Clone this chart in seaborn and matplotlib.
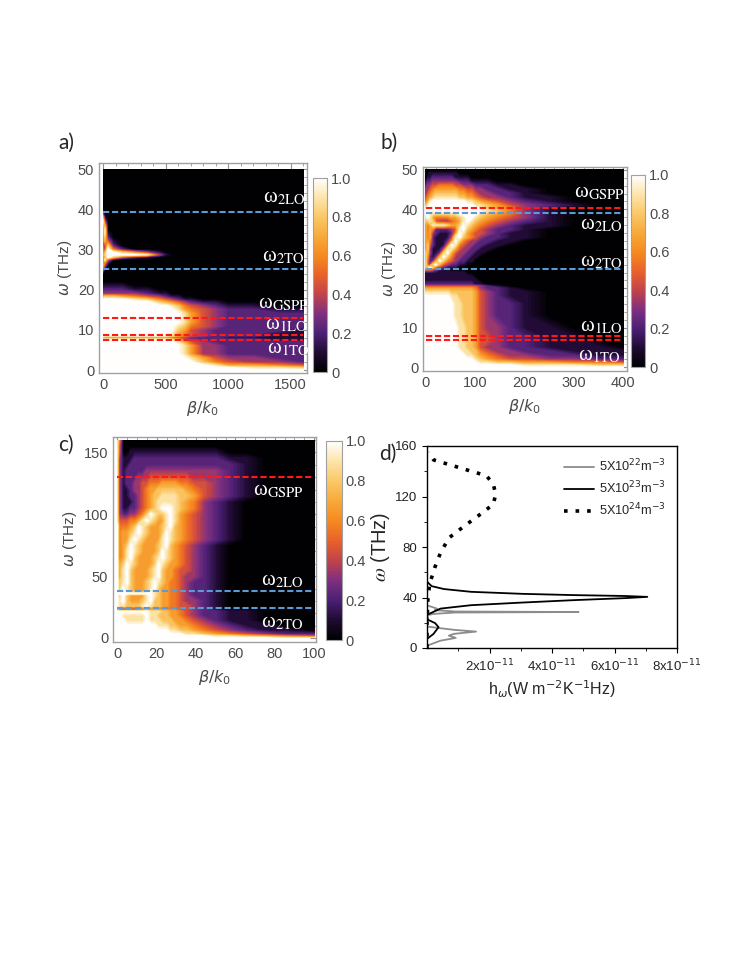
import numpy as np
import matplotlib
matplotlib.use("Agg")
import matplotlib.pyplot as plt
import seaborn as sns
from matplotlib.colors import LinearSegmentedColormap, Normalize
from matplotlib.cm import ScalarMappable
from matplotlib.patches import Rectangle
from matplotlib.ticker import MultipleLocator, FixedLocator

sns.set_style("white")
plt.rcParams['font.family'] = ['Liberation Sans', 'DejaVu Sans']

# ---------------- data ----------------
# heat-map intensities: one string per omega row (top -> bottom), digit d -> d/9
X_A = [0, 15, 40, 80, 150, 250, 350, 450, 500, 550, 600, 650, 700, 800, 900, 1000, 1200, 1400, 1600]
Y_A = [50, 40, 39, 38, 37, 36, 35, 34, 33, 32, 31, 30, 29.3, 28.7, 28.1, 27.5, 27, 26, 25, 24, 22, 21, 20, 19,
       18.3, 17.6, 17, 16, 15, 14, 13, 12, 11, 10, 9, 8.6, 8.1, 7.6, 7, 6, 5, 4, 3, 2, 1.2, 0.6, 0]
Z_A = ["0000000000000000000", "0000000000000000000", "2000000000000000000", "6100000000000000000",
       "8300000000000000000", "7600000000000000000", "5800000000000000000", "4810000000000000000",
       "4720000000000000000", "4641000000000000000", "4372000000000000000", "5395200000000000000",
       "5699753100000000000", "6799998310000000000", "5697421000000000000", "4841000000000000000",
       "5620000000000000000", "6300000000000000000", "3000000000000000000", "0000000000000000000",
       "0000000000000000000", "1111100000000000000", "2222211000000000000", "3333332110000000000",
       "6777654321100000000", "8999987543211000000", "9999999765432110000", "9999999998754321100",
       "9999999999865432211", "9999999999986432222", "9999999999986432222", "9999999999986432222",
       "9999999999875432222", "9999999999764322221", "9999999998654322211", "9999999998654322211",
       "6555555554432221111", "9999999998643222211", "9999999999864322222", "9999999999986332222",
       "9999999999986332222", "9999999999986332222", "9999999999998643322", "9999999999999754332",
       "9999999999999986654", "9999999999999999887", "9999999999999999999"]

X_B = [0, 4, 8, 14, 20, 28, 36, 44, 52, 60, 68, 76, 84, 92, 100, 110, 125, 145, 170, 200, 250, 300, 350, 400]
Y_B = [50, 49, 48, 47, 46, 45, 44, 43, 42, 41, 40.4, 39.7, 39, 38, 37, 36, 35, 34, 33, 32, 31, 30, 29, 28,
       27, 26, 25.3, 24.6, 24, 23, 22, 21, 20.5, 20, 19, 18, 16, 13, 10, 7, 5, 4, 3, 2, 1.2, 0.6, 0]
Z_B = ["000000000000000000000000", "001111111100000000000000", "011222222111100000000000",
       "122333333322211110000000", "233445555443332221100000", "334566666655443322110000",
       "345677777766554332210000", "456788888877665433211000", "568999999999887654321000",
       "789999999999998876432100", "899999999999999876531000", "999999999999999987531000",
       "998888888899999876531000", "898655556678998765431000", "778743334568987654321000",
       "656888876679876543211000", "646522223489765432210000", "656321112598654432110000",
       "656211113897654322110000", "665211125975433221100000", "674211149854332211000000",
       "673111388643322110000000", "763112796433221100000000", "752126975332211000000000",
       "742259754322110000000000", "743796432211000000000000", "779743211100000000000000",
       "444321110000000000000000", "111111111111000000000000", "111111111111110000000000",
       "111111111111111000000000", "222222222222221100000000", "444444444444444321000000",
       "666666666666665322100000", "888888887777776432110000", "999999998877776432110000",
       "999999999887776432210000", "999999999887776432210000", "999999999988776433211000",
       "999999999988776443221100", "999999999988776433221110", "999999999998877543322111",
       "999999999999887654332211", "999999999999998765443322", "999999999999999887766554",
       "999999999999999999988877", "999999999999999999999999"]

X_C = [0, 1, 3, 5, 7, 9, 11, 13, 15, 17, 19, 21, 23, 25, 27, 29, 32, 35, 39, 44, 50, 57, 65, 75, 85, 100]
Y_C = [160, 155, 150, 145, 140, 135, 130, 125, 120, 115, 110, 105, 100, 95, 90, 85, 80, 75, 70, 65, 60, 55,
       50, 45, 40, 37.5, 36, 34.5, 30, 26, 23.2, 21.5, 18, 14, 10, 6, 3, 1.5, 0]
Z_C = ["85000000000000000000000000", "84000000000000000000000000", "84001111111111111111100000",
       "83111222222222222222211000", "83112222222222222222221000", "83122222333333333333321000",
       "83122233344444444433321000", "83122334455566665544321000", "83112334566777777654321000",
       "83112234567788887764321000", "83111234567888887653210000", "83112234567899987653210000",
       "83223345798778986543210000", "84445568987668986543210000", "95556798766678976543210000",
       "95667898766679876543210000", "95668987666689876543210000", "95679876666789765432100000",
       "95689876666798765432100000", "95689766667898765432100000", "96798766667987665432100000",
       "96897666678976654432100000", "96897666678976654332100000", "97897666789876554322100000",
       "97987666789766554322100000", "97987666798766554322100000", "99999999998766554322100000",
       "97976666898766554322100000", "98976667897766554332100000", "98877778987766554432100000",
       "53333334555555554432100000", "99999999988877665432211000", "99888888988777665432211000",
       "99988888988877766543211000", "99999999999888776654321100", "99999999999999887765432110",
       "99999999999999999887654322", "99999999999999999999887654", "99999999999999999999999988"]

# reference frequency lines (THz)
BLUE_A = [39.2, 25.2]
RED_A = [13.0, 8.7, 7.5]
BLUE_B = [39.0, 24.8]
RED_B = [40.4, 7.9, 7.0]
BLUE_C = [37.7, 24.4]
RED_C = [130.0]

# mode labels: (beta/k0, omega, subscript)
LAB_A = [(1280, 40.6, "2LO"), (1272, 25.7, "2TO"), (1240, 14.2, "GSPP"), (1296, 8.9, "1LO"), (1310, 3.0, "1TO")]
LAB_B = [(300, 41.7, "GSPP"), (312, 33.6, "2LO"), (312, 24.2, "2TO"), (312, 7.9, "1LO"), (308, 0.6, "1TO")]
LAB_C = [(69, 111, "GSPP"), (73, 38.7, "2LO"), (73, 4.8, "2TO")]

# panel d curves: h (units of 1e-11 W m^-2 K^-1 Hz) vs omega (THz)
H_22 = [0.0, 0.43, 0.92, 0.70, 0.86, 1.57, 0.86, 0.32, 0.0, 0.0, 0.2, 0.9, 4.85, 0.9, 0.25, 0.32, 0.0, 0.0]
W_22 = [1.8, 5.8, 8.0, 9.8, 11.2, 13.0, 14.4, 16.0, 17.0, 25.9, 27.0, 28.1, 28.5, 28.9, 30.0, 31.2, 33.8, 40.0]
H_23 = [0.0, 0.21, 0.37, 0.26, 0.03, 0.0, 0.10, 0.43, 1.41, 3.05, 4.69, 6.33, 7.05, 6.33, 4.69, 3.05, 1.41, 0.54, 0.15, 0.0]
W_23 = [7.2, 11.2, 16.5, 19.7, 22.4, 26.2, 27.4, 31.2, 33.9, 36.0, 37.9, 39.5, 40.5, 41.2, 41.9, 42.9, 44.5, 46.7, 49.0, 52.5]
H_24 = [0.0, 0.0, 0.03, 0.09, 0.26, 0.43, 0.70, 1.19, 1.63, 2.12, 2.20, 2.12, 1.90, 1.35, 0.21, 0.04]
W_24 = [0.0, 20.0, 40.0, 51.2, 64.5, 75.2, 87.2, 96.5, 104.5, 113.8, 121.8, 129.8, 136.5, 140.5, 149.0, 155.0]
LEG = [r"5X10$^{22}$m$^{-3}$", r"5X10$^{23}$m$^{-3}$", r"5X10$^{24}$m$^{-3}$"]

# ---------------- style ----------------
cmap = LinearSegmentedColormap.from_list("sunset", [
    (0.00, "#000000"), (0.10, "#1f0b33"), (0.20, "#4c2075"), (0.30, "#7f2f80"),
    (0.40, "#c2434a"), (0.50, "#e9622a"), (0.60, "#f68a1e"), (0.70, "#f8a93a"),
    (0.80, "#fac866"), (0.90, "#fde4aa"), (1.00, "#ffffff")])
BLUE = "#5b9bd5"
RED = "#ff1a1a"
FRAME = "#a0a0a0"
TXT = "#4a4a4a"

W, H = 747, 967
fig = plt.figure(figsize=(W / 100, H / 100), dpi=100)


def fr(l, t, r, b):
    return [l / W, 1 - b / H, (r - l) / W, (b - t) / H]


def grid(rows, n):
    return np.array([[int(c) for c in (r + r[-1] * n)[:n]] for r in rows]) / 9.0


def heat(rect, X, Y, Z, xlim, ylim, xmaj, xmin, ymaj, ymin, blues, reds, labs, cbrect):
    ax = fig.add_axes(rect)
    ax.contourf(X, Y, grid(Z, len(X)), levels=np.linspace(-0.001, 1.001, 61), cmap=cmap,
                vmin=0, vmax=1, antialiased=False)
    for y in reds:
        ax.hlines(y, X[0], X[-1], colors=RED, lw=1.5, linestyles=(0, (3, 1.3)), zorder=3)
    for y in blues:
        ax.hlines(y, X[0], X[-1], colors=BLUE, lw=1.5, linestyles=(0, (3, 1.3)), zorder=3)
    clip = Rectangle((X[0], Y[-1]), X[-1] - X[0], Y[0] - Y[-1], transform=ax.transData)
    for x, y, s in labs:
        t = ax.text(x, y, "ω" + r"$_{\mathrm{%s}}$" % s, color="white", fontsize=15,
                    family=["Liberation Serif", "DejaVu Serif"], math_fontfamily="stix",
                    ha="left", va="bottom", zorder=4)
        t.set_clip_path(clip)
    ax.set_xlim(*xlim)
    ax.set_ylim(*ylim)
    ax.xaxis.set_major_locator(MultipleLocator(xmaj))
    ax.xaxis.set_minor_locator(MultipleLocator(xmin))
    ax.yaxis.set_major_locator(MultipleLocator(ymaj))
    ax.yaxis.set_minor_locator(MultipleLocator(ymin))
    ax.tick_params(which="both", direction="in", top=True, right=True, color="#909090",
                   labelcolor=TXT, labelsize=10.5)
    ax.tick_params(which="major", length=4, width=0.8)
    ax.tick_params(which="minor", length=2, width=0.6)
    for sp in ax.spines.values():
        sp.set_color(FRAME)
        sp.set_linewidth(1.0)
    ax.set_ylabel(r"$\omega$ (THz)", fontsize=11, color=TXT, math_fontfamily="dejavusans", labelpad=3)
    ax.set_xlabel(r"$\beta/k_0$", fontsize=11.5, color=TXT, math_fontfamily="dejavusans", labelpad=5)
    cax = fig.add_axes(cbrect)
    cb = fig.colorbar(ScalarMappable(norm=Normalize(0, 1), cmap=cmap), cax=cax,
                      ticks=[0, 0.2, 0.4, 0.6, 0.8, 1.0])
    cb.ax.set_yticklabels(["0", "0.2", "0.4", "0.6", "0.8", "1.0"])
    cb.outline.set_edgecolor(FRAME)
    cb.outline.set_linewidth(0.8)
    cb.ax.tick_params(direction="in", length=2.5, color="#909090", labelcolor=TXT, labelsize=10.5, pad=3)
    return ax


heat(fr(99, 163, 307, 373), X_A, Y_A, Z_A, (-32, 1630), (-0.7, 51.5), 500, 100, 10, 2,
     BLUE_A, RED_A, LAB_A, fr(313, 178, 327, 372))
heat(fr(423, 166.5, 627, 370.7), X_B, Y_B, Z_B, (-6, 408), (-0.85, 50.85), 100, 20, 10, 2,
     BLUE_B, RED_B, LAB_B, fr(631, 175, 645, 367))
heat(fr(113, 436.7, 316, 641.7), X_C, Y_C, Z_C, (-2.2, 101), (-3, 162.7), 20, 5, 50, 10,
     BLUE_C, RED_C, LAB_C, fr(326, 441, 341.5, 640))

# ---------------- panel d ----------------
axd = fig.add_axes(fr(427, 446, 677, 648))
sc = 1e-11
sns.lineplot(x=np.array(H_22) * sc, y=W_22, sort=False, estimator=None, color="#8c8c8c", lw=1.3,
             label=LEG[0], ax=axd)
sns.lineplot(x=np.array(H_23) * sc, y=W_23, sort=False, estimator=None, color="black", lw=1.3,
             label=LEG[1], ax=axd)
sns.lineplot(x=np.array(H_24) * sc, y=W_24, sort=False, estimator=None, color="black", lw=2.6,
             linestyle=(0, (1, 2.2)), label=LEG[2], ax=axd)
axd.set_xlim(0, 8e-11)
axd.set_ylim(0, 160)
axd.xaxis.set_major_locator(FixedLocator([2e-11, 4e-11, 6e-11, 8e-11]))
axd.set_xticklabels([r"2x10$^{-11}$", r"4x10$^{-11}$", r"6x10$^{-11}$", r"8x10$^{-11}$"])
axd.xaxis.set_minor_locator(FixedLocator([1e-11, 3e-11, 5e-11, 7e-11]))
axd.yaxis.set_major_locator(FixedLocator([0, 40, 80, 120, 160]))
axd.yaxis.set_minor_locator(FixedLocator([20, 60, 100, 140]))
axd.tick_params(which="both", direction="out", labelsize=9.5, color="black", labelcolor="#222222",
                left=True, bottom=True)
axd.tick_params(which="major", length=3.5, width=0.8)
axd.tick_params(which="minor", length=2, width=0.6)
for sp in axd.spines.values():
    sp.set_color("black")
    sp.set_linewidth(1.0)
axd.set_ylabel(r"$\omega$ (THz)", fontsize=14.5, math_fontfamily="stix", labelpad=2)
axd.set_xlabel(r"h$_{\omega}$(W m$^{-2}$K$^{-1}$Hz)", fontsize=11.5, math_fontfamily="dejavusans", labelpad=3)
leg = axd.legend(loc="upper right", frameon=False, fontsize=9.2, handlelength=2.4, handletextpad=0.35,
                 labelspacing=0.45, borderaxespad=0.5)
for t in leg.get_texts():
    t.set_math_fontfamily("dejavusans")

# panel letters
for s, x, y in [("a)", 58, 143), ("b)", 380, 143), ("c)", 58, 444.5), ("d)", 379, 453.5)]:
    fig.text(x / W, 1 - y / H, s, fontsize=15, ha="left", va="center", family=["Lato", "DejaVu Sans"])

fig.savefig("out.png", dpi=100, facecolor="white")
